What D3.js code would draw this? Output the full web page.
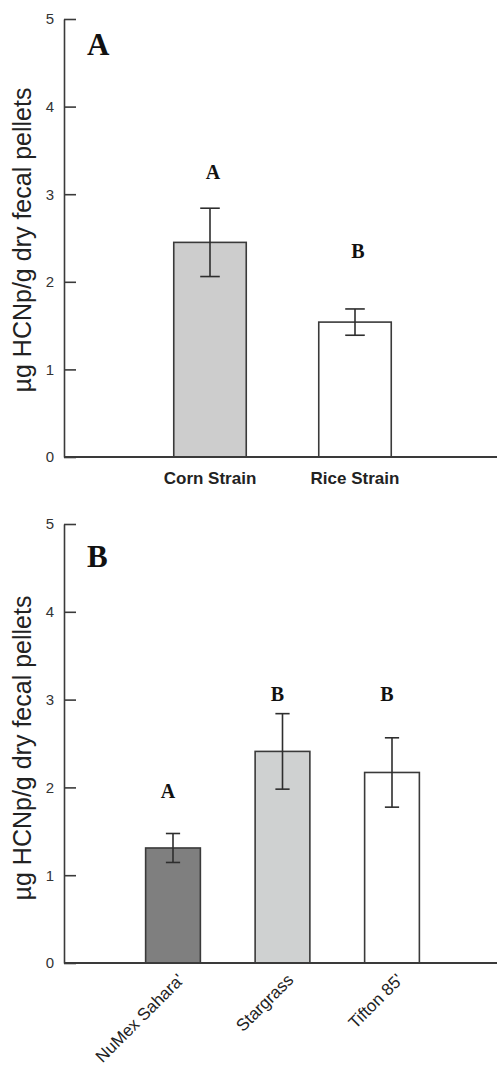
<!DOCTYPE html>
<html lang="en">
  <head>
    <meta charset="UTF-8" />
    <title>HCNp in fecal pellets</title>
    <style>
      body { margin: 0; background: #fff; }
      svg { display: block; }
    </style>
  </head>
  <body>
    <div class="chart"></div>

    <script src="https://d3js.org/d3.v7.min.js"></script>

    <script>
      // data =================================================================
      const strainNames = ["Corn Strain", "Rice Strain"];
      const strainMeans = [2.45, 1.54];
      const strainSE = [0.39, 0.15];
      const strainLetters = ["A", "B"];
      const strainLetterY = [3.25, 2.35];
      const strainFills = ["#cdcdcd", "#ffffff"];

      const grassNames = ["NuMex Sahara'", "Stargrass", "Tifton 85'"];
      const grassMeans = [1.31, 2.41, 2.17];
      const grassSE = [0.165, 0.43, 0.395];
      const grassLetters = ["A", "B", "B"];
      const grassLetterY = [1.95, 3.06, 3.06];
      const grassFills = ["#7f7f7f", "#cfd1d1", "#ffffff"];

      const yTicks = [0, 1, 2, 3, 4, 5];
      const yTitle = "µg HCNp/g dry fecal pellets";

      const W = 498, H = 1066;
      const svg = d3.select(".chart").append("svg")
        .attr("width", W).attr("height", H);

      const axisX = 64;
      const dark = "#3a3a3a";

      // one panel =================================================================
      function panel(opt) {
        const g = svg.append("g");

        const y = d3.scaleLinear().domain([0, 5]).range([opt.y0, opt.y5]);
        const x = d3.scaleBand()
          .domain(opt.names)
          .range(opt.xRange)
          .paddingInner(0.5)
          .paddingOuter(0.25);

        const rows = opt.names.map((n, i) => ({
          name: n, mean: opt.means[i], se: opt.se[i],
          letter: opt.letters[i], ly: opt.letterY[i], fill: opt.fills[i]
        }));

        // bars
        g.selectAll("rect.bar")
          .data(rows)
          .enter()
          .append("rect")
          .attr("class", "bar")
          .attr("x", (d) => x(d.name))
          .attr("width", x.bandwidth())
          .attr("y", (d) => y(d.mean))
          .attr("height", (d) => y(0) - y(d.mean))
          .attr("fill", (d) => d.fill)
          .attr("stroke", dark)
          .attr("stroke-width", 1.6);

        // error bars
        const cap = x.bandwidth() * opt.capRatio;
        const err = g.selectAll("g.err").data(rows).enter().append("g")
          .attr("stroke", "#2e2e2e").attr("stroke-width", 1.6);
        err.append("line")
          .attr("x1", (d) => x(d.name) + x.bandwidth() / 2)
          .attr("x2", (d) => x(d.name) + x.bandwidth() / 2)
          .attr("y1", (d) => y(d.mean + d.se))
          .attr("y2", (d) => y(d.mean - d.se));
        err.append("line")
          .attr("x1", (d) => x(d.name) + x.bandwidth() / 2 - cap / 2)
          .attr("x2", (d) => x(d.name) + x.bandwidth() / 2 + cap / 2)
          .attr("y1", (d) => y(d.mean + d.se))
          .attr("y2", (d) => y(d.mean + d.se));
        err.append("line")
          .attr("x1", (d) => x(d.name) + x.bandwidth() / 2 - cap / 2)
          .attr("x2", (d) => x(d.name) + x.bandwidth() / 2 + cap / 2)
          .attr("y1", (d) => y(d.mean - d.se))
          .attr("y2", (d) => y(d.mean - d.se));

        // significance letters
        g.selectAll("text.sig")
          .data(rows)
          .enter()
          .append("text")
          .attr("class", "sig")
          .attr("x", (d) => x(d.name) + x.bandwidth() / 2 + opt.sigDx)
          .attr("y", (d) => y(d.ly))
          .attr("dy", "0.33em")
          .attr("text-anchor", "middle")
          .style("font-family", "'Liberation Serif', 'Times New Roman', serif")
          .style("font-weight", "bold")
          .style("font-size", "20px")
          .attr("fill", "#111")
          .text((d) => d.letter);

        // y axis
        const ax = g.append("g")
          .attr("transform", `translate(${axisX},0)`)
          .call(d3.axisLeft(y).tickValues(yTicks).tickFormat(d3.format("d"))
            .tickSize(-12).tickSizeOuter(0).tickPadding(10));
        ax.select(".domain").attr("stroke", dark).attr("stroke-width", 1.6);
        ax.selectAll(".tick line").attr("stroke", dark).attr("stroke-width", 1.6);
        ax.selectAll(".tick text")
          .style("font-family", "'Liberation Sans', Arial, sans-serif")
          .style("font-size", "15px")
          .attr("fill", "#333");

        // x axis line
        g.append("line")
          .attr("x1", axisX).attr("x2", 497)
          .attr("y1", y(0)).attr("y2", y(0))
          .attr("stroke", dark).attr("stroke-width", 1.8);

        // category labels
        const lab = g.selectAll("text.cat")
          .data(rows)
          .enter()
          .append("text")
          .attr("class", "cat")
          .style("font-family", "'Liberation Sans', Arial, sans-serif")
          .attr("fill", "#222")
          .text((d) => d.name);

        if (opt.rotate) {
          lab.attr("text-anchor", "end")
            .style("font-size", "17px")
            .attr("transform", (d) =>
              `translate(${x(d.name) + x.bandwidth() / 2 + 12},${y(0) + 18}) rotate(-45)`);
        } else {
          lab.attr("text-anchor", "middle")
            .style("font-size", "17px")
            .style("font-weight", "bold")
            .attr("x", (d) => x(d.name) + x.bandwidth() / 2)
            .attr("y", y(0) + 27);
        }

        // y title
        g.append("text")
          .attr("transform", `translate(31,${opt.titleY}) rotate(-90)`)
          .attr("text-anchor", "middle")
          .style("font-family", "'Liberation Sans', Arial, sans-serif")
          .style("font-size", "25px")
          .attr("fill", "#222")
          .text(yTitle);

        // panel letter
        g.append("text")
          .attr("x", 87)
          .attr("y", opt.y5 + opt.panelDy)
          .style("font-family", "'Liberation Serif', 'Times New Roman', serif")
          .style("font-weight", "bold")
          .style("font-size", "31px")
          .attr("fill", "#111")
          .text(opt.panel);
      }

      panel({
        names: strainNames, means: strainMeans, se: strainSE,
        letters: strainLetters, letterY: strainLetterY, fills: strainFills,
        y0: 457, y5: 19, xRange: [137.5, 427.5], capRatio: 0.27,
        sigDx: 3, titleY: 240, panel: "A", panelDy: 36, rotate: false
      });

      panel({
        names: grassNames, means: grassMeans, se: grassSE,
        letters: grassLetters, letterY: grassLetterY, fills: grassFills,
        y0: 963, y5: 524, xRange: [118.25, 446.75], capRatio: 0.26,
        sigDx: -5, titleY: 748, panel: "B", panelDy: 43, rotate: true
      });
    </script>
  </body>
</html>
